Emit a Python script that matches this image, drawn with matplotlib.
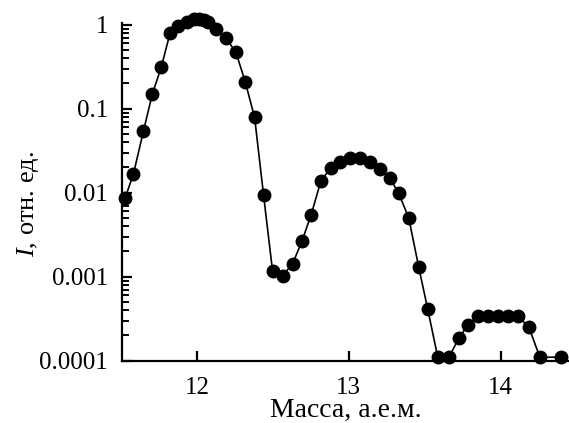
import numpy as np
import matplotlib
matplotlib.use("Agg")
import matplotlib.pyplot as plt
from matplotlib.ticker import FixedLocator, FuncFormatter, LogLocator, NullFormatter

plt.rcParams['font.family'] = ['Liberation Serif', 'DejaVu Serif']
plt.rcParams['mathtext.fontset'] = 'custom'
plt.rcParams['mathtext.it'] = 'Liberation Serif:italic'
plt.rcParams['mathtext.rm'] = 'Liberation Serif'

# mass (a.m.u.) and relative intensity
mass = [11.527, 11.582, 11.648, 11.707, 11.765, 11.824, 11.879, 11.934, 11.978,
        12.011, 12.044, 12.070, 12.125, 12.191, 12.257, 12.318, 12.380, 12.439,
        12.498, 12.564, 12.630, 12.692, 12.753, 12.817, 12.880, 12.945, 13.008,
        13.074, 13.140, 13.204, 13.270, 13.329, 13.395, 13.461, 13.520, 13.586,
        13.659, 13.725, 13.784, 13.850, 13.916, 13.982, 14.047, 14.113, 14.186,
        14.258, 14.395]
intensity = [0.0086, 0.0166, 0.054, 0.150, 0.31, 0.80, 0.97, 1.09, 1.16,
             1.17, 1.14, 1.07, 0.88, 0.69, 0.47, 0.21, 0.079, 0.0094,
             0.00118, 0.00103, 0.00142, 0.00266, 0.0055, 0.0139, 0.0195, 0.0230, 0.0261,
             0.0258, 0.0229, 0.0190, 0.0151, 0.0098, 0.0050, 0.00129, 0.00041, 0.00011,
             0.00011, 0.000185, 0.000266, 0.00034, 0.00034, 0.00034, 0.00034, 0.00034, 0.00025,
             0.00011, 0.00011]

y_ticks = [1e-4, 1e-3, 1e-2, 1e-1, 1]
y_labels = ["0.0001", "0.001", "0.01", "0.1", "1"]
x_ticks = [12, 13, 14]

fig = plt.figure(figsize=(5.69, 4.23), dpi=100)
ax = fig.add_axes([0.2144, 0.1473, 0.7856, 0.799])

ax.plot(mass, intensity, color='black', lw=1.2, marker='o', ms=9,
        markerfacecolor='black', markeredgecolor='black', clip_on=False)

ax.set_yscale('log')
ax.set_ylim(1e-4, 1.056)
ax.set_xlim(11.507, 14.45)

ax.yaxis.set_major_locator(FixedLocator(y_ticks))
ax.yaxis.set_major_formatter(FuncFormatter(lambda v, p: y_labels[y_ticks.index(v)] if v in y_ticks else ""))
ax.yaxis.set_minor_locator(LogLocator(base=10, subs=np.arange(2, 10)))
ax.yaxis.set_minor_formatter(NullFormatter())
ax.xaxis.set_major_locator(FixedLocator(x_ticks))

for s in ['top', 'right']:
    ax.spines[s].set_visible(False)
for s in ['left', 'bottom']:
    ax.spines[s].set_linewidth(1.6)

ax.tick_params(axis='both', which='major', direction='in', length=7, width=1.6,
               labelsize=18)
ax.tick_params(axis='y', which='minor', direction='in', length=5, width=1.4)
ax.tick_params(axis='y', which='major', pad=10)
ax.tick_params(axis='x', which='major', pad=12)

ax.set_xlabel("Масса, а.е.м.", fontsize=20, labelpad=-1)
ax.set_ylabel("$I$, отн. ед.", fontsize=19, labelpad=-1)
ax.yaxis.label.set_y(0.465)

fig.savefig("out.png", dpi=100)
